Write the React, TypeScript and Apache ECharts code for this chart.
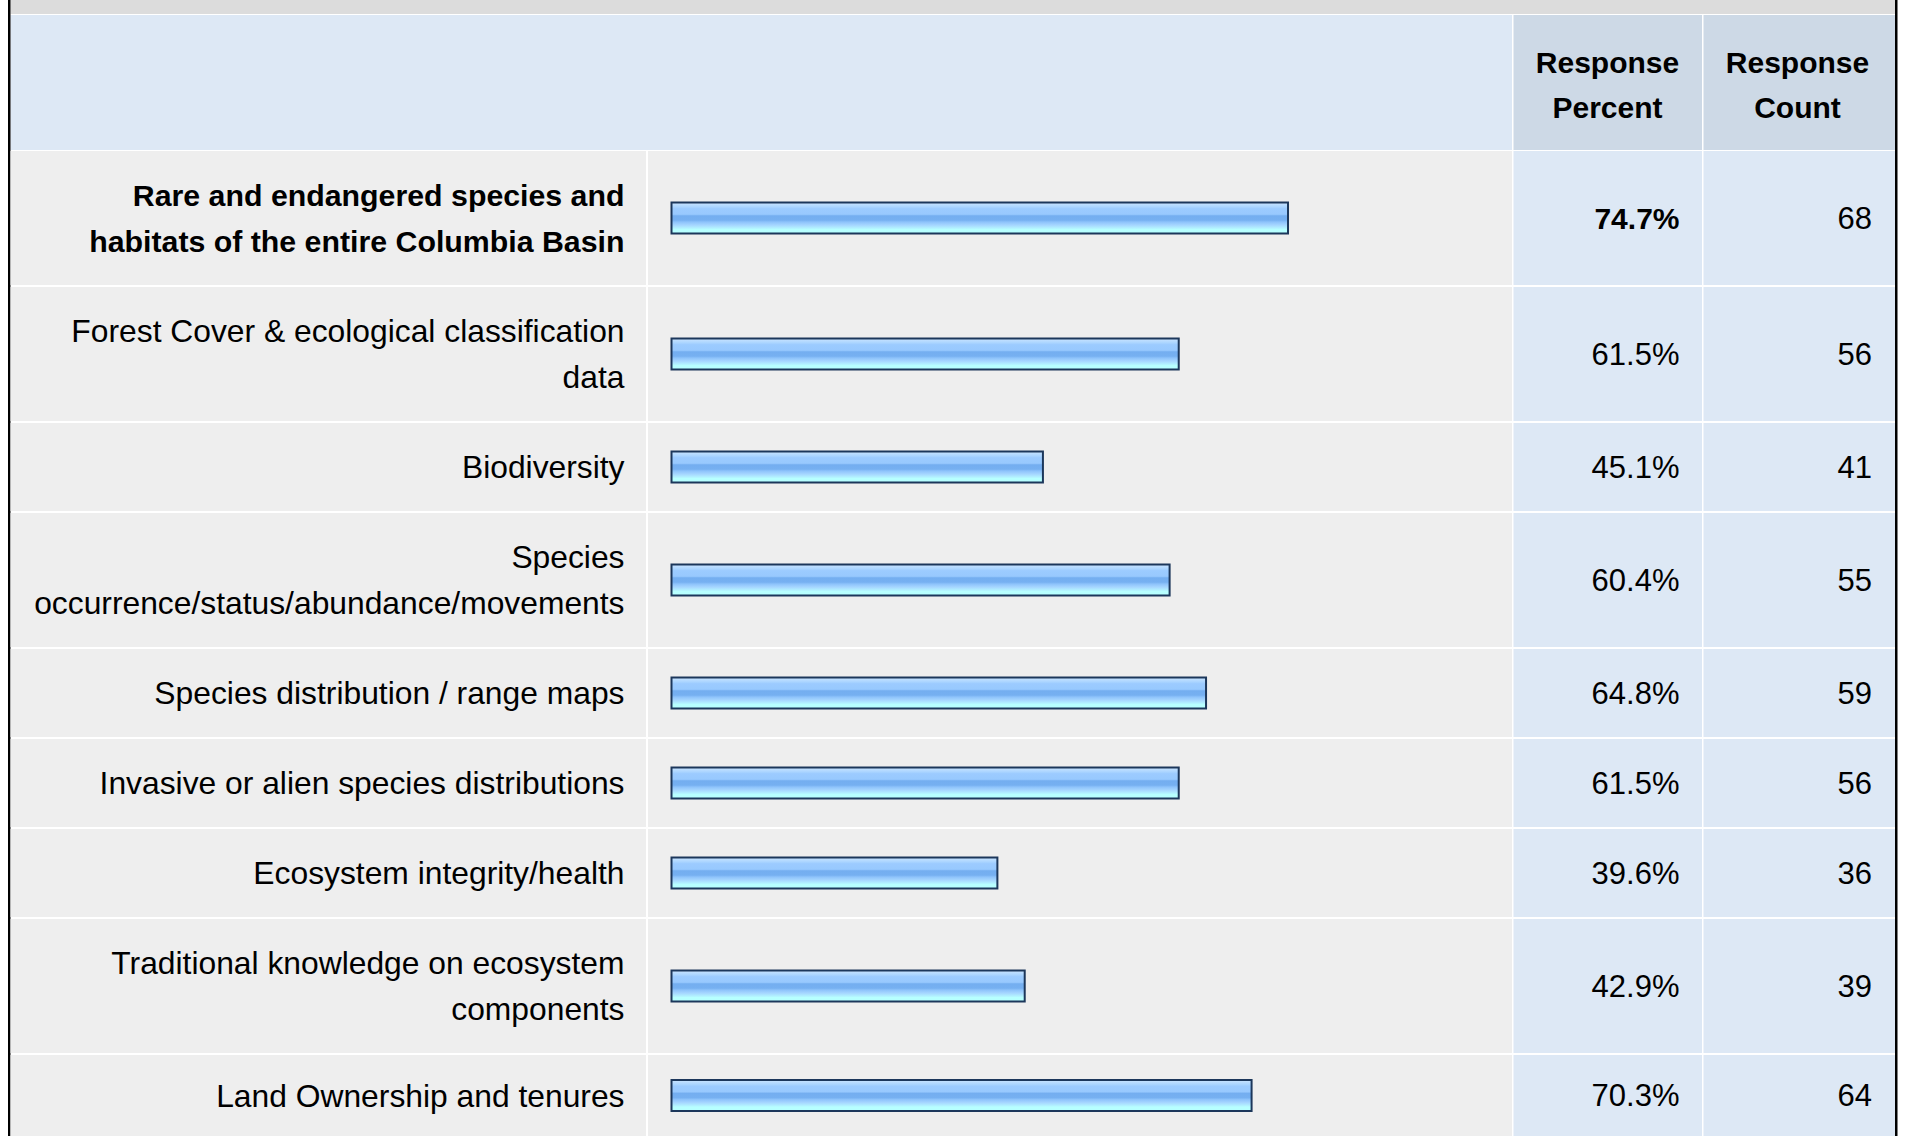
import React, { useEffect, useRef } from "react";
import * as echarts from "echarts";

// ---------- data ----------
const categories = [
  "Rare and endangered species and\nhabitats of the entire Columbia Basin",
  "Forest Cover & ecological classification\ndata",
  "Biodiversity",
  "Species\noccurrence/status/abundance/movements",
  "Species distribution / range maps",
  "Invasive or alien species distributions",
  "Ecosystem integrity/health",
  "Traditional knowledge on ecosystem\ncomponents",
  "Land Ownership and tenures",
];
const responsePercent = [74.7, 61.5, 45.1, 60.4, 64.8, 61.5, 39.6, 42.9, 70.3];
const responseCount = [68, 56, 41, 55, 59, 56, 36, 39, 64];
const headers = ["Response\nPercent", "Response\nCount"];

// ---------- layout ----------
const W = 1909;
const H = 1136;
const FONT = "'Liberation Sans', Arial, Helvetica, sans-serif";
const TABLE_L = 10.5;
const TABLE_R = 1895;
const HEADER_TOP = 15;
const HEADER_BOTTOM = 150;
const COL_LABEL_R = 646;
const COL_BAR_L = 648;
const COL_BAR_R = 1512;
const COL_PCT_L = 1513.5;
const COL_PCT_R = 1702;
const COL_CNT_L = 1703.5;
const ROW_SEP = 2;
const ROW_BASE_H = 88;
const LINE_H = 46;
const BAR_X0 = 670.5;
const BAR_FULL = 828;
const LABEL_RIGHT = 624.5;
const PCT_RIGHT = 1679.5;
const CNT_RIGHT = 1872;

export default function App() {
  const ref = useRef<HTMLDivElement>(null);

  useEffect(() => {
    document.body.style.margin = "0";
    if (!ref.current) return;
    const chart = echarts.init(ref.current, undefined, { renderer: "svg" });

    const maxVal = Math.max(...responsePercent);

    // row geometry from label line counts
    const rows: { top: number; h: number }[] = [];
    let y = HEADER_BOTTOM + 1;
    categories.forEach((c) => {
      const lines = c.split("\n").length;
      const h = ROW_BASE_H + (lines - 1) * LINE_H;
      rows.push({ top: y, h });
      y += h + ROW_SEP;
    });

    const rect = (x1: number, y1: number, x2: number, y2: number, fill: string) => ({
      type: "rect",
      z: -10,
      shape: { x: x1, y: y1, width: x2 - x1, height: y2 - y1 },
      style: { fill },
      silent: true,
    });

    const graphics: any[] = [
      rect(TABLE_L, 14, TABLE_R, H, "#ffffff"),
      rect(TABLE_L, 0, TABLE_R, 14, "#dcdcdc"),
      rect(TABLE_L, HEADER_TOP, COL_BAR_R, HEADER_BOTTOM, "#dde8f5"),
      rect(COL_PCT_L, HEADER_TOP, COL_PCT_R, HEADER_BOTTOM, "#cdd9e6"),
      rect(COL_CNT_L, HEADER_TOP, TABLE_R, HEADER_BOTTOM, "#cdd9e6"),
      rect(8, 0, 10.5, H, "#000000"),
      rect(1895, 0, 1897.5, H, "#000000"),
    ];
    rows.forEach((r) => {
      graphics.push(rect(TABLE_L, r.top, COL_LABEL_R, r.top + r.h, "#eeeeee"));
      graphics.push(rect(COL_BAR_L, r.top, COL_BAR_R, r.top + r.h, "#eeeeee"));
      graphics.push(rect(COL_PCT_L, r.top, COL_PCT_R, r.top + r.h, "#dde8f5"));
      graphics.push(rect(COL_CNT_L, r.top, TABLE_R, r.top + r.h, "#dde8f5"));
    });
    const headerCenters = [1607.5, 1797.5];
    headers.forEach((t, i) => {
      graphics.push({
        type: "text",
        z: 5,
        x: headerCenters[i],
        y: 84.5,
        style: {
          text: t,
          fill: "#000000",
          fontSize: 30,
          fontWeight: "bold",
          fontFamily: FONT,
          align: "center",
          verticalAlign: "middle",
          lineHeight: 45,
        },
      });
    });

    const barGradient = new echarts.graphic.LinearGradient(0, 0, 0, 1, [
      { offset: 0, color: "#cbe5ff" },
      { offset: 0.14, color: "#abd5ff" },
      { offset: 0.2, color: "#9ccbff" },
      { offset: 0.38, color: "#98c9fe" },
      { offset: 0.43, color: "#74aef0" },
      { offset: 0.57, color: "#76b0f1" },
      { offset: 0.63, color: "#8ec3fb" },
      { offset: 0.73, color: "#a6d6ff" },
      { offset: 0.83, color: "#b3f2ff" },
      { offset: 0.87, color: "#b7ffff" },
      { offset: 1, color: "#b7ffff" },
    ]);

    const grid: any[] = [];
    const xAxis: any[] = [];
    const yAxis: any[] = [];
    const series: any[] = [];
    const hiddenAxisParts = {
      axisLine: { show: false },
      axisTick: { show: false },
      splitLine: { show: false },
    };

    rows.forEach((r, i) => {
      const isMax = responsePercent[i] === maxVal;
      grid.push({ left: BAR_X0, width: BAR_FULL, top: r.top, height: r.h, containLabel: false });
      xAxis.push({ gridIndex: i, type: "value", min: 0, max: 100, show: false });
      const labelBase = {
        fontFamily: FONT,
        color: "#000000",
        lineHeight: LINE_H,
        align: "right",
        padding: [7, 0, 0, 0],
      };
      yAxis.push({
        gridIndex: i,
        type: "category",
        data: [categories[i]],
        position: "left",
        z: 10,
        ...hiddenAxisParts,
        axisLabel: {
          ...labelBase,
          margin: BAR_X0 - LABEL_RIGHT,
          fontSize: isMax ? 30.3 : 31.8,
          fontWeight: isMax ? "bold" : "normal",
        },
      });
      yAxis.push({
        gridIndex: i,
        type: "category",
        data: [responsePercent[i].toFixed(1) + "%"],
        position: "right",
        z: 10,
        ...hiddenAxisParts,
        axisLabel: {
          ...labelBase,
          margin: PCT_RIGHT - (BAR_X0 + BAR_FULL),
          fontSize: isMax ? 30 : 31,
          fontWeight: isMax ? "bold" : "normal",
        },
      });
      yAxis.push({
        gridIndex: i,
        type: "category",
        data: [String(responseCount[i])],
        position: "right",
        z: 10,
        ...hiddenAxisParts,
        axisLabel: {
          ...labelBase,
          margin: CNT_RIGHT - (BAR_X0 + BAR_FULL),
          fontSize: 31,
          fontWeight: "normal",
        },
      });
      series.push({
        type: "bar",
        xAxisIndex: i,
        yAxisIndex: i * 3,
        data: [responsePercent[i]],
        barWidth: 33,
        z: 10,
        itemStyle: { color: barGradient, borderColor: "#1c375b", borderWidth: 2 },
        silent: true,
      });
    });

    chart.setOption({
      animation: false,
      backgroundColor: "#ffffff",
      graphic: { elements: graphics },
      grid,
      xAxis,
      yAxis,
      series,
    });

    return () => chart.dispose();
  }, []);

  return (
    <div
      ref={ref}
      style={{ position: "absolute", left: 0, top: 0, width: W, height: H }}
    />
  );
}
